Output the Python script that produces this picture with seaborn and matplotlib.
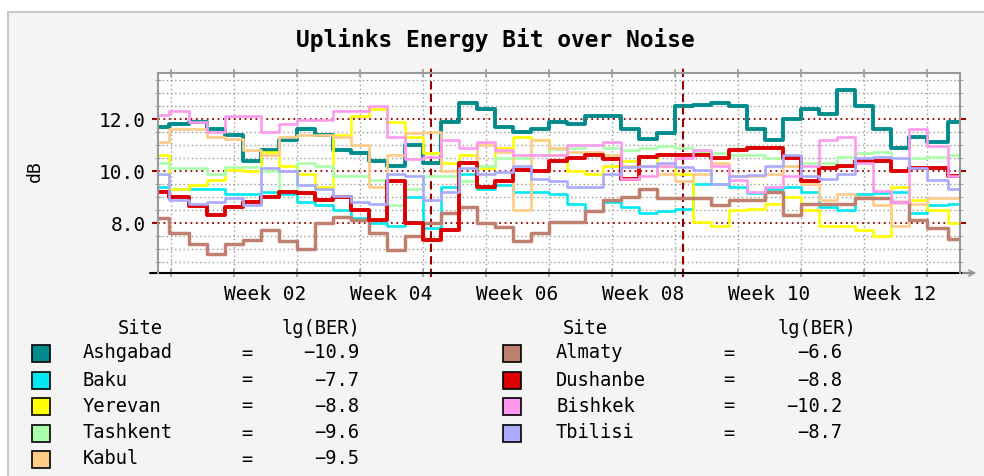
import pandas as pd
import seaborn as sns
import matplotlib.pyplot as plt
import matplotlib.ticker as ticker
from matplotlib.patches import Rectangle

sns.set_style("white")
plt.rcParams["font.family"] = ["DejaVu Sans Mono", "DejaVu Sans"]
plt.rcParams["text.color"] = "black"

# sample days (day 0 = start of week 01)
days = [-1.5] + list(range(1, 86, 2)) + [87.7]

sites = ["Ashgabad", "Baku", "Yerevan", "Tashkent", "Kabul",
         "Almaty", "Dushanbe", "Bishkek", "Tbilisi"]
ber = ["-10.9", "-7.7", "-8.8", "-9.6", "-9.5", "-6.6", "-8.8", "-10.2", "-8.7"]
colors = ["#008c8c", "#00e8f0", "#ffff00", "#aaffaa", "#ffcc88",
          "#c08070", "#dd0000", "#ff99ee", "#aaaaff"]
widths = [2.8, 1.9, 1.9, 1.9, 1.9, 2.5, 2.8, 1.9, 1.9]

ashgabad = [11.7, 11.8, 11.9, 11.6, 11.4, 10.4, 10.8, 11.2, 11.6, 11.4,
            10.8, 10.7, 10.4, 10.2, 11.0, 10.3, 11.9, 12.6, 12.4, 11.7,
            11.5, 11.6, 11.9, 11.8, 12.1, 12.1, 11.6, 11.25, 11.45, 12.5,
            12.55, 12.6, 12.5, 11.6, 11.2, 12.0, 12.4, 12.2, 13.1, 12.5,
            11.6, 10.9, 11.3, 11.1, 11.9]
baku = [9.4, 9.3, 9.3, 9.3, 9.1, 9.1, 9.2, 9.1, 8.8, 8.7,
        8.5, 8.2, 8.0, 7.9, 9.0, 7.8, 9.4, 9.9, 9.3, 9.45,
        9.2, 9.2, 9.1, 8.75, 8.45, 8.8, 8.6, 8.4, 8.45, 8.55,
        9.5, 9.5, 9.4, 9.15, 9.3, 9.4, 9.2, 8.6, 8.5, 9.1,
        9.15, 9.2, 8.4, 8.7, 8.75]
yerevan = [10.6, 9.3, 9.45, 9.65, 10.05, 10.0, 10.75, 10.2, 9.9, 9.4,
           11.4, 12.1, 12.4, 11.9, 11.3, 10.7, 10.3, 10.6, 10.1, 10.9,
           11.3, 11.2, 10.6, 10.0, 9.9, 10.2, 10.4, 10.55, 10.2, 9.9,
           8.05, 7.9, 8.5, 8.55, 8.75, 9.0, 8.5, 7.9, 7.9, 7.75,
           7.5, 9.4, 8.9, 8.5, 8.0]
tashkent = [10.3, 10.1, 10.1, 9.9, 10.15, 10.15, 10.0, 9.2, 10.3, 10.2,
            9.8, 9.8, 9.65, 8.7, 9.3, 9.8, 9.8, 9.6, 10.2, 10.5,
            10.5, 10.6, 10.85, 10.9, 11.0, 10.9, 10.8, 10.9, 10.95, 10.9,
            10.75, 10.7, 10.6, 10.6, 10.5, 10.2, 10.3, 10.3, 10.55, 10.7,
            10.75, 10.0, 10.5, 10.55, 10.6]
kabul = [11.1, 11.6, 11.6, 11.3, 11.25, 10.8, 10.6, 11.3, 11.4, 11.4,
         11.3, 11.0, 9.4, 10.6, 11.45, 11.5, 10.0, 10.35, 11.0, 10.75,
         8.5, 11.2, 10.9, 10.75, 10.75, 10.6, 10.2, 10.2, 9.9, 9.6,
         9.9, 10.3, 9.8, 9.8, 9.9, 10.2, 9.5, 8.9, 9.1, 9.0,
         8.7, 7.9, 8.75, 8.95, 8.95]
almaty = [8.2, 7.6, 7.2, 6.8, 7.2, 7.35, 7.75, 7.3, 7.0, 8.0,
          8.25, 8.1, 7.6, 6.95, 7.5, 8.0, 8.4, 8.6, 8.0, 7.85,
          7.3, 7.6, 8.05, 8.05, 8.45, 8.9, 9.0, 9.3, 8.95, 8.95,
          8.95, 8.7, 8.9, 8.9, 9.2, 8.3, 8.75, 8.75, 8.75, 8.95,
          8.95, 8.8, 8.1, 7.8, 7.4]
dushanbe = [9.2, 9.0, 8.65, 8.3, 8.6, 8.8, 9.0, 9.2, 9.15, 8.9,
            9.0, 8.5, 8.1, 9.6, 8.0, 7.35, 7.75, 10.3, 9.4, 9.6,
            10.05, 10.0, 10.4, 10.5, 10.6, 10.45, 9.7, 10.55, 10.6, 10.6,
            10.6, 10.5, 10.8, 10.9, 10.9, 10.5, 9.6, 10.1, 10.2, 10.4,
            10.4, 10.0, 10.1, 10.1, 9.8]
bishkek = [12.15, 12.3, 11.9, 11.5, 12.1, 12.1, 11.5, 11.8, 11.95, 11.95,
           12.3, 12.3, 12.5, 11.3, 10.45, 10.55, 11.2, 10.9, 11.1, 10.8,
           10.6, 10.6, 10.6, 11.0, 11.0, 11.1, 9.7, 9.8, 10.2, 10.5,
           10.8, 10.2, 9.65, 9.2, 9.4, 9.8, 10.2, 11.2, 11.3, 10.3,
           9.25, 8.8, 11.6, 10.95, 9.8]
tbilisi = [9.9, 8.9, 8.75, 8.8, 8.95, 8.7, 10.1, 10.0, 9.45, 9.3,
           9.05, 8.8, 8.75, 9.9, 9.8, 8.9, 9.2, 10.1, 9.9, 9.95,
           10.2, 9.7, 9.6, 9.4, 9.4, 9.9, 10.15, 10.2, 10.3, 10.15,
           10.05, 9.5, 9.8, 9.85, 10.2, 10.6, 9.8, 9.7, 9.9, 10.5,
           10.55, 10.5, 10.1, 9.65, 9.3]
series = [ashgabad, baku, yerevan, tashkent, kabul, almaty, dushanbe, bishkek, tbilisi]

week_starts = list(range(0, 85, 7))
week_label_pos = [10.5, 24.5, 38.5, 52.5, 66.5, 80.5]
week_labels = ["Week 02", "Week 04", "Week 06", "Week 08", "Week 10", "Week 12"]
vrule_days = [28.9, 56.9]

W, H = 984, 476


def fx(px):
    return px / W


def fy(py):
    return 1 - py / H


fig = plt.figure(figsize=(W / 100, H / 100), dpi=100)
fig.patch.set_facecolor("white")
fig.add_artist(Rectangle((fx(8), -0.05), 1.0, fy(12) + 0.05, transform=fig.transFigure,
                         facecolor="#f4f4f4", edgecolor="#c8c8c8", lw=1.5, zorder=0))

ax = fig.add_axes([fx(158), fy(273), (960 - 158) / W, 200 / H])
ax.set_facecolor("white")

for site, vals, col, lw in zip(sites, series, colors, widths):
    df = pd.DataFrame({"day": days, "dB": vals})
    sns.lineplot(data=df, x="day", y="dB", color=col, linewidth=lw,
                 drawstyle="steps-mid", ax=ax)

ax.set_xlim(-1.45, 87.7)
ax.set_ylim(6.077, 13.77)
ax.set_xlabel("")
ax.set_ylabel("")

ax.xaxis.set_major_locator(ticker.FixedLocator(week_starts))
ax.xaxis.set_major_formatter(ticker.NullFormatter())
ax.xaxis.set_minor_locator(ticker.FixedLocator(week_label_pos))
ax.xaxis.set_minor_formatter(ticker.FixedFormatter(week_labels))
ax.yaxis.set_major_locator(ticker.FixedLocator([8, 10, 12]))
ax.yaxis.set_major_formatter(ticker.FormatStrFormatter("%.1f"))
ax.yaxis.set_minor_locator(ticker.MultipleLocator(0.5))

ax.tick_params(axis="x", which="major", direction="inout", length=6,
               color="#999999", top=True, bottom=True, width=1.2)
ax.tick_params(axis="x", which="minor", length=0, pad=9, labelsize=14,
               labelcolor="black")
ax.tick_params(axis="y", which="major", direction="out", length=4, width=1.5,
               color="#a00000", left=True, right=True, pad=5, labelsize=14,
               labelcolor="black")
ax.tick_params(axis="y", which="minor", direction="inout", length=5,
               color="#999999", left=True, right=True)

ax.set_axisbelow(True)
ax.grid(True, axis="x", which="major", color="#999999", ls=(0, (1, 2)), lw=1.0)
ax.grid(True, axis="y", which="minor", color="#999999", ls=(0, (1, 2)), lw=1.0)
ax.grid(True, axis="y", which="major", color="#990000", ls=(0, (1, 2)), lw=1.3)

for d in vrule_days:
    ax.plot([d, d], [5.92, 13.96], color="#990000", ls=(0, (4, 2)), lw=1.5,
            clip_on=False, zorder=1)

for s in ["left", "top", "right"]:
    ax.spines[s].set_color("#999999")
    ax.spines[s].set_linewidth(1.5)
ax.spines["bottom"].set_visible(False)
ax.plot([-0.01, 1.015], [0, 0], transform=ax.transAxes, color="black", lw=1.5,
        clip_on=False)
ax.annotate("", xy=(1.024, 0), xytext=(1.0, 0), xycoords="axes fraction",
            arrowprops=dict(arrowstyle="->", color="#999999", lw=1.3))

fig.text(fx(495), fy(40), "Uplinks Energy Bit over Noise", ha="center", va="center",
         fontsize=16.5, fontweight="bold")
fig.text(fx(35), fy(171), "dB", rotation=90, ha="center", va="center", fontsize=13)

# legend, two columns
rows = [353, 380, 406, 433, 459]
cols = [dict(box=32, name=83, eq=247, val=359, site=140, ber=282),
        dict(box=503, name=556, eq=729, val=842, site=585, ber=778)]
for c in cols:
    fig.text(fx(c["site"]), fy(328), "Site", ha="center", va="center", fontsize=13.5)
    fig.text(fx(c["ber"]), fy(328), "lg(BER)", ha="left", va="center", fontsize=13.5)
for i, (site, col, val) in enumerate(zip(sites, colors, ber)):
    c = cols[0] if i < 5 else cols[1]
    y = rows[i if i < 5 else i - 5]
    fig.add_artist(Rectangle((fx(c["box"]), fy(y + 8.5)), 18 / W, 17 / H,
                             transform=fig.transFigure, facecolor=col,
                             edgecolor="black", lw=1.2))
    fig.text(fx(c["name"]), fy(y), site, ha="left", va="center", fontsize=13.5)
    fig.text(fx(c["eq"]), fy(y), "=", ha="center", va="center", fontsize=13.5)
    fig.text(fx(c["val"]), fy(y), val.replace("-", "\u2212"), ha="right", va="center",
             fontsize=13.5)

fig.savefig("out.png", dpi=100)
